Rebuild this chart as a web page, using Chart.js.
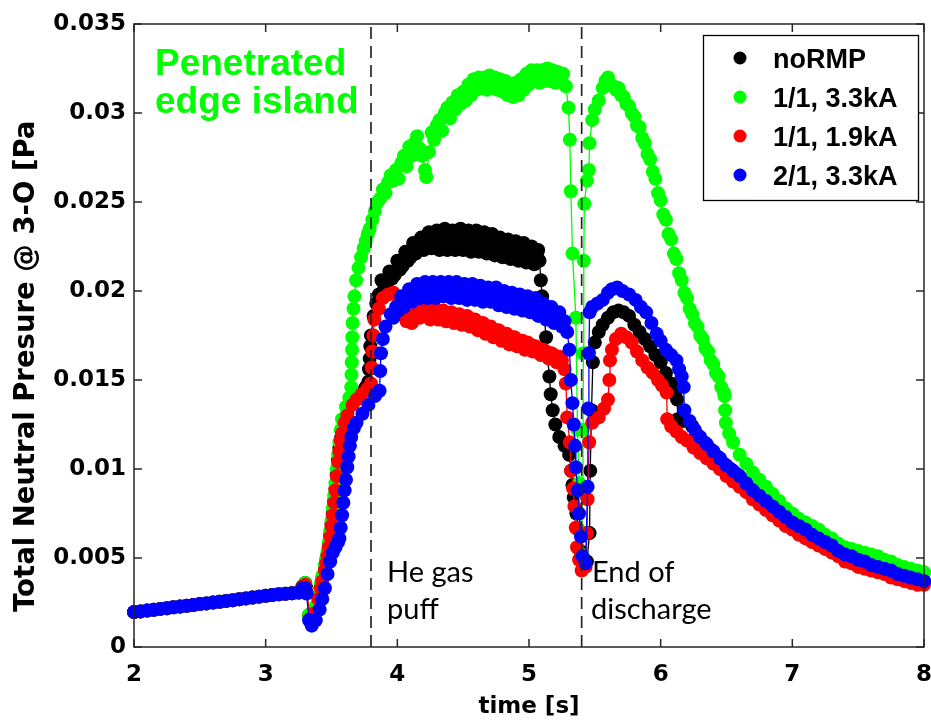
<!DOCTYPE html>
<html>
<head>
<meta charset="utf-8">
<script src="https://cdn.jsdelivr.net/npm/chart.js@4.4.1/dist/chart.umd.min.js"></script>
<style>
  html, body { margin: 0; padding: 0; background: #ffffff; }
  #wrap { position: relative; width: 931px; height: 721px; }
</style>
</head>
<body>
<div id="wrap"><canvas id="c"></canvas></div>
<script>
// ---------- data ----------
const xTickLabels = ['2', '3', '4', '5', '6', '7', '8'];
const yTickLabels = ['0', '0.005', '0.01', '0.015', '0.02', '0.025', '0.03', '0.035'];
const seriesLabels = ['noRMP', '1/1, 3.3kA', '1/1, 1.9kA', '2/1, 3.3kA'];
const seriesColors = ['#000000', '#00ff00', '#ff0000', '#0000ff'];
const eventTimes = [3.8, 5.4];
const xTitle = 'time [s]';
const yTitle = 'Total Neutral Presure @ 3-O [Pa';
const islandNote = ['Penetrated', 'edge island'];
const puffNote = ['He gas', 'puff'];
const endNote = ['End of', 'discharge'];

// pre-puff ramp, common to all four discharges  [time s, pressure Pa]
const preRamp = [
  [2.00,0.00196],[2.05,0.00200],[2.10,0.00205],[2.15,0.00209],[2.20,0.00214],[2.25,0.00218],
  [2.30,0.00223],[2.35,0.00227],[2.40,0.00232],[2.45,0.00236],[2.50,0.00241],[2.55,0.00245],
  [2.60,0.00250],[2.65,0.00254],[2.70,0.00259],[2.75,0.00263],[2.80,0.00268],[2.85,0.00273],
  [2.90,0.00278],[2.95,0.00283],[3.00,0.00288],[3.05,0.00292],[3.10,0.00296],[3.15,0.00299],
  [3.20,0.00302],[3.25,0.00306]
];

const noRMP = [
  [3.28,0.0034],[3.30,0.0036],[3.31,0.0033],[3.33,0.0018],[3.35,0.0016],[3.38,0.0022],[3.40,0.0028],
  [3.42,0.0034],[3.43,0.0038],[3.45,0.0044],[3.46,0.0048],[3.47,0.0052],[3.48,0.0057],[3.49,0.0063],
  [3.50,0.0069],[3.51,0.0075],[3.52,0.0082],[3.53,0.0089],[3.54,0.0097],[3.55,0.0105],[3.56,0.0112],
  [3.57,0.0117],[3.58,0.0122],[3.60,0.0127],[3.62,0.0131],[3.66,0.0137],[3.69,0.0140],[3.73,0.0143],
  [3.76,0.0146],[3.78,0.0149],[3.785,0.0156],[3.79,0.0162],[3.795,0.0169],[3.80,0.0175],[3.82,0.0186],
  [3.84,0.0193],[3.86,0.0198],[3.88,0.0206],[3.90,0.0201],[3.92,0.0203],[3.94,0.0211],[3.96,0.0207],
  [3.98,0.0209],[4.00,0.0217],[4.02,0.0212],[4.04,0.0214],[4.06,0.0222],[4.08,0.0217],[4.10,0.0219],
  [4.12,0.0227],[4.14,0.0221],[4.16,0.0223],[4.18,0.0230],[4.20,0.0223],[4.22,0.0226],[4.24,0.0233],
  [4.26,0.0224],[4.28,0.0228],[4.30,0.0234],[4.32,0.0223],[4.34,0.0229],[4.36,0.0235],[4.38,0.0223],
  [4.40,0.0229],[4.42,0.0234],[4.44,0.0223],[4.46,0.0229],[4.48,0.0235],[4.50,0.0223],[4.52,0.0229],
  [4.54,0.0234],[4.56,0.0222],[4.58,0.0228],[4.60,0.0234],[4.62,0.0222],[4.64,0.0228],[4.66,0.0233],
  [4.68,0.0221],[4.70,0.0227],[4.72,0.0232],[4.74,0.0220],[4.76,0.0226],[4.78,0.0230],[4.80,0.0219],
  [4.82,0.0225],[4.84,0.0229],[4.86,0.0218],[4.88,0.0224],[4.90,0.0228],[4.92,0.0217],[4.94,0.0222],
  [4.96,0.0227],[4.98,0.0216],[5.00,0.0221],[5.02,0.0225],[5.04,0.0215],[5.06,0.0220],[5.07,0.0223],
  [5.08,0.0217],[5.09,0.0206],[5.10,0.0197],[5.115,0.0186],[5.13,0.0174],[5.14,0.0163],[5.155,0.0152],
  [5.165,0.0142],[5.18,0.0133],[5.20,0.0125],[5.23,0.0118],[5.27,0.0113],[5.305,0.0108],[5.32,0.0099],
  [5.33,0.0091],[5.34,0.0084],[5.36,0.0075],[5.375,0.0066],[5.39,0.0054],[5.42,0.0045],[5.44,0.0048],
  [5.46,0.0064],[5.465,0.0099],[5.475,0.0133],[5.485,0.0160],[5.50,0.0171],[5.53,0.0177],[5.56,0.0181],
  [5.60,0.0185],[5.64,0.0188],[5.68,0.0189],[5.72,0.0188],[5.76,0.0186],[5.80,0.0181],[5.84,0.0177],
  [5.88,0.0173],[5.92,0.0169],[5.96,0.0164],[6.00,0.0160],[6.04,0.0154],[6.08,0.0148],[6.11,0.0142],
  [6.125,0.0139],[6.13,0.0128],[6.16,0.0127],[6.20,0.0127],[6.24,0.0124],[6.28,0.0119],[6.33,0.0115],
  [6.38,0.0111],[6.43,0.0107],[6.48,0.0103],[6.53,0.0100],[6.58,0.0097],[6.63,0.0093],[6.68,0.0089],
  [6.73,0.0086],[6.78,0.0083],[6.83,0.0080],[6.88,0.0077],[6.93,0.0074],[6.98,0.0071],[7.05,0.0067],
  [7.12,0.0064],[7.20,0.0060],[7.28,0.0057],[7.36,0.0054],[7.44,0.0051],[7.52,0.0048],[7.60,0.0046],
  [7.70,0.0043],[7.80,0.0041],[7.90,0.0039],[8.00,0.0037]
];

const rmp11High = [
  [3.28,0.0034],[3.30,0.0036],[3.31,0.0032],[3.33,0.0018],[3.35,0.0017],[3.38,0.0023],[3.40,0.0029],
  [3.42,0.0036],[3.43,0.0040],[3.45,0.0046],[3.46,0.0050],[3.47,0.0054],[3.48,0.0059],[3.49,0.0065],
  [3.50,0.0071],[3.51,0.0078],[3.52,0.0085],[3.53,0.0092],[3.54,0.0100],[3.55,0.0108],[3.56,0.0115],
  [3.57,0.0122],[3.58,0.0128],[3.61,0.0135],[3.635,0.0140],[3.65,0.0146],[3.652,0.0153],[3.654,0.0160],
  [3.656,0.0167],[3.658,0.0174],[3.66,0.0182],[3.667,0.0190],[3.674,0.0197],[3.687,0.0206],[3.705,0.0213],
  [3.725,0.0219],[3.745,0.0224],[3.76,0.0228],[3.775,0.0232],[3.79,0.0235],[3.81,0.0240],[3.83,0.0245],
  [3.85,0.0250],[3.87,0.0252],[3.89,0.0257],[3.91,0.0255],[3.93,0.0261],[3.95,0.0265],[3.97,0.0262],
  [3.99,0.0268],[4.01,0.0263],[4.03,0.0272],[4.05,0.0276],[4.07,0.0270],[4.09,0.0281],[4.11,0.0276],
  [4.13,0.0283],[4.15,0.0287],[4.17,0.0280],[4.19,0.0276],[4.21,0.0268],[4.22,0.0264],[4.24,0.0278],
  [4.26,0.0289],[4.28,0.0285],[4.30,0.0293],[4.32,0.0296],[4.34,0.0290],[4.36,0.0300],[4.38,0.0303],
  [4.40,0.0297],[4.42,0.0306],[4.44,0.0302],[4.46,0.0310],[4.48,0.0305],[4.50,0.0312],[4.52,0.0307],
  [4.54,0.0316],[4.56,0.0310],[4.58,0.0319],[4.60,0.0313],[4.62,0.0320],[4.64,0.0314],[4.66,0.0320],
  [4.68,0.0313],[4.70,0.0321],[4.72,0.0315],[4.74,0.0320],[4.76,0.0313],[4.78,0.0319],[4.80,0.0312],
  [4.82,0.0318],[4.84,0.0310],[4.86,0.0316],[4.88,0.0309],[4.90,0.0317],[4.92,0.0310],[4.94,0.0319],
  [4.96,0.0313],[4.98,0.0322],[5.00,0.0316],[5.02,0.0324],[5.04,0.0318],[5.06,0.0324],[5.08,0.0317],
  [5.10,0.0324],[5.12,0.0318],[5.14,0.0325],[5.16,0.0318],[5.18,0.0324],[5.20,0.0317],[5.22,0.0323],
  [5.24,0.0318],[5.26,0.0322],[5.28,0.0315],[5.30,0.0303],[5.31,0.0285],[5.318,0.0256],[5.33,0.0221],
  [5.356,0.0185],[5.368,0.0122],[5.381,0.0092],[5.39,0.0065],[5.398,0.0052],[5.405,0.0090],[5.41,0.0122],
  [5.413,0.0165],[5.416,0.0217],[5.42,0.0249],[5.44,0.0262],[5.455,0.0268],[5.46,0.0283],[5.48,0.0296],
  [5.50,0.0302],[5.53,0.0307],[5.56,0.0314],[5.58,0.0318],[5.60,0.0320],[5.62,0.0316],[5.64,0.0315],
  [5.66,0.0313],[5.68,0.0314],[5.70,0.0310],[5.72,0.0309],[5.74,0.0305],[5.76,0.0304],[5.78,0.0300],
  [5.80,0.0298],[5.82,0.0293],[5.84,0.0292],[5.86,0.0286],[5.88,0.0283],[5.90,0.0277],[5.92,0.0274],
  [5.94,0.0267],[5.96,0.0263],[5.98,0.0255],[6.00,0.0251],[6.02,0.0243],[6.04,0.0240],[6.06,0.0232],
  [6.08,0.0229],[6.10,0.0221],[6.12,0.0218],[6.14,0.0210],[6.16,0.0206],[6.18,0.0199],[6.20,0.0196],
  [6.22,0.0190],[6.24,0.0187],[6.26,0.0182],[6.28,0.0180],[6.30,0.0175],[6.32,0.0173],[6.34,0.0168],
  [6.36,0.0166],[6.38,0.0161],[6.40,0.0159],[6.42,0.0154],[6.44,0.0152],[6.46,0.0146],[6.48,0.0143],
  [6.485,0.0141],[6.49,0.0133],[6.495,0.0126],[6.52,0.0120],[6.55,0.0115],[6.60,0.0108],[6.65,0.0103],
  [6.70,0.0098],[6.75,0.0094],[6.80,0.0090],[6.85,0.0086],[6.90,0.0082],[6.95,0.0078],[7.00,0.0075],
  [7.05,0.0072],[7.10,0.0070],[7.15,0.0068],[7.20,0.0066],[7.25,0.0063],[7.30,0.0061],[7.35,0.0058],
  [7.40,0.0056],[7.45,0.0055],[7.50,0.0054],[7.55,0.0053],[7.60,0.0052],[7.65,0.0051],[7.70,0.0049],
  [7.75,0.0048],[7.80,0.0046],[7.85,0.0045],[7.90,0.0044],[7.95,0.0043],[8.00,0.0042]
];

const rmp11Low = [
  [3.28,0.0034],[3.30,0.0035],[3.31,0.0031],[3.34,0.0016],[3.37,0.0019],[3.40,0.0027],[3.42,0.0033],
  [3.43,0.0037],[3.45,0.0043],[3.46,0.0047],[3.47,0.0051],[3.48,0.0056],[3.49,0.0062],[3.50,0.0068],
  [3.51,0.0074],[3.52,0.0081],[3.53,0.0088],[3.54,0.0096],[3.55,0.0104],[3.56,0.0110],[3.57,0.0116],
  [3.58,0.0120],[3.60,0.0126],[3.62,0.0130],[3.66,0.0136],[3.69,0.0139],[3.73,0.0142],[3.77,0.0145],
  [3.80,0.0148],[3.805,0.0157],[3.81,0.0166],[3.818,0.0175],[3.825,0.0184],[3.86,0.0190],[3.89,0.0196],
  [3.93,0.0198],[3.97,0.0199],[4.01,0.0193],[4.03,0.0188],[4.05,0.0186],[4.07,0.0183],[4.09,0.0186],
  [4.11,0.0182],[4.13,0.0185],[4.15,0.0188],[4.17,0.0185],[4.19,0.0190],[4.21,0.0186],[4.23,0.0189],
  [4.25,0.0184],[4.27,0.0188],[4.29,0.0190],[4.31,0.0184],[4.33,0.0187],[4.35,0.0189],[4.37,0.0183],
  [4.39,0.0187],[4.41,0.0188],[4.43,0.0182],[4.45,0.0186],[4.47,0.0187],[4.49,0.0181],[4.51,0.0185],
  [4.53,0.0186],[4.55,0.0180],[4.57,0.0184],[4.59,0.0184],[4.61,0.0178],[4.63,0.0182],[4.65,0.0182],
  [4.67,0.0176],[4.69,0.0180],[4.71,0.0180],[4.73,0.0174],[4.75,0.0178],[4.77,0.0178],[4.79,0.0172],
  [4.81,0.0176],[4.83,0.0176],[4.85,0.0170],[4.87,0.0174],[4.89,0.0174],[4.91,0.0169],[4.93,0.0172],
  [4.95,0.0172],[4.97,0.0167],[4.99,0.0171],[5.01,0.0170],[5.03,0.0166],[5.05,0.0169],[5.07,0.0168],
  [5.09,0.0164],[5.11,0.0167],[5.13,0.0166],[5.15,0.0162],[5.17,0.0165],[5.19,0.0164],[5.21,0.0160],
  [5.23,0.0163],[5.25,0.0161],[5.27,0.0156],[5.28,0.0148],[5.29,0.0129],[5.31,0.0115],[5.32,0.0099],
  [5.335,0.0089],[5.345,0.0079],[5.355,0.0067],[5.365,0.0056],[5.38,0.0049],[5.40,0.0043],[5.43,0.0045],
  [5.44,0.0064],[5.445,0.0083],[5.457,0.0115],[5.48,0.0126],[5.53,0.0129],[5.57,0.0134],[5.60,0.0139],
  [5.61,0.0150],[5.615,0.0161],[5.63,0.0167],[5.66,0.0173],[5.70,0.0176],[5.74,0.0174],[5.78,0.0171],
  [5.82,0.0166],[5.86,0.0161],[5.90,0.0157],[5.94,0.0154],[5.98,0.0150],[6.01,0.0147],[6.045,0.0143],
  [6.05,0.0128],[6.08,0.0124],[6.12,0.0121],[6.16,0.0118],[6.20,0.0116],[6.25,0.0112],[6.30,0.0109],
  [6.35,0.0106],[6.40,0.0103],[6.45,0.0100],[6.50,0.0096],[6.55,0.0093],[6.60,0.0090],[6.65,0.0087],
  [6.70,0.0083],[6.75,0.0080],[6.80,0.0077],[6.85,0.0074],[6.90,0.0071],[6.95,0.0068],[7.00,0.0066],
  [7.05,0.0063],[7.10,0.0061],[7.15,0.0059],[7.20,0.0057],[7.25,0.0055],[7.30,0.0053],[7.35,0.0051],
  [7.40,0.0048],[7.45,0.0047],[7.50,0.0045],[7.55,0.0044],[7.60,0.0043],[7.65,0.0042],[7.70,0.0041],
  [7.75,0.0039],[7.80,0.0038],[7.85,0.0037],[7.90,0.0036],[7.95,0.0035],[8.00,0.0035]
];

const rmp21High = [
  [3.28,0.0033],[3.30,0.0033],[3.31,0.0030],[3.33,0.0015],[3.35,0.0012],[3.38,0.0015],[3.41,0.0021],
  [3.43,0.0027],[3.45,0.0033],[3.47,0.0041],[3.49,0.0048],[3.51,0.0053],[3.53,0.0056],[3.55,0.0059],
  [3.56,0.0061],[3.57,0.0067],[3.58,0.0074],[3.59,0.0081],[3.60,0.0088],[3.61,0.0094],[3.62,0.0101],
  [3.63,0.0107],[3.64,0.0113],[3.65,0.0118],[3.67,0.0123],[3.69,0.0126],[3.735,0.0131],[3.78,0.0136],
  [3.83,0.0141],[3.865,0.0144],[3.87,0.0155],[3.876,0.0165],[3.89,0.0173],[3.91,0.0180],[3.95,0.0187],
  [3.97,0.0185],[3.99,0.0191],[4.01,0.0189],[4.03,0.0197],[4.05,0.0191],[4.07,0.0195],[4.09,0.0201],
  [4.11,0.0194],[4.13,0.0199],[4.15,0.0204],[4.17,0.0196],[4.19,0.0200],[4.21,0.0205],[4.23,0.0196],
  [4.25,0.0201],[4.27,0.0205],[4.29,0.0196],[4.31,0.0201],[4.33,0.0205],[4.35,0.0197],[4.37,0.0201],
  [4.39,0.0205],[4.41,0.0196],[4.43,0.0201],[4.45,0.0205],[4.47,0.0196],[4.49,0.0200],[4.51,0.0204],
  [4.53,0.0195],[4.55,0.0200],[4.57,0.0204],[4.59,0.0195],[4.61,0.0199],[4.63,0.0203],[4.65,0.0194],
  [4.67,0.0198],[4.69,0.0202],[4.71,0.0194],[4.73,0.0198],[4.75,0.0202],[4.77,0.0192],[4.79,0.0196],
  [4.81,0.0200],[4.83,0.0191],[4.85,0.0195],[4.87,0.0199],[4.89,0.0190],[4.91,0.0194],[4.93,0.0198],
  [4.95,0.0189],[4.97,0.0193],[4.99,0.0197],[5.01,0.0188],[5.03,0.0192],[5.05,0.0196],[5.07,0.0186],
  [5.09,0.0190],[5.11,0.0193],[5.13,0.0184],[5.15,0.0188],[5.17,0.0191],[5.19,0.0182],[5.21,0.0186],
  [5.23,0.0188],[5.25,0.0180],[5.27,0.0183],[5.29,0.0177],[5.307,0.0167],[5.318,0.0150],[5.33,0.0137],
  [5.34,0.0125],[5.35,0.0113],[5.356,0.0101],[5.37,0.0088],[5.38,0.0075],[5.395,0.0062],[5.406,0.0051],
  [5.43,0.0047],[5.445,0.0090],[5.45,0.0134],[5.455,0.0165],[5.46,0.0188],[5.48,0.0191],[5.52,0.0193],
  [5.56,0.0195],[5.60,0.0199],[5.63,0.0201],[5.67,0.0202],[5.71,0.0200],[5.76,0.0198],[5.81,0.0195],
  [5.85,0.0191],[5.89,0.0188],[5.93,0.0182],[5.97,0.0176],[6.00,0.0172],[6.04,0.0167],[6.08,0.0164],
  [6.12,0.0161],[6.14,0.0156],[6.16,0.0152],[6.175,0.0146],[6.18,0.0133],[6.22,0.0127],[6.26,0.0122],
  [6.30,0.0118],[6.35,0.0114],[6.40,0.0110],[6.45,0.0106],[6.50,0.0102],[6.55,0.0099],[6.60,0.0096],
  [6.65,0.0092],[6.70,0.0088],[6.75,0.0085],[6.80,0.0082],[6.85,0.0079],[6.90,0.0076],[6.95,0.0073],
  [7.00,0.0070],[7.05,0.0068],[7.10,0.0066],[7.15,0.0063],[7.20,0.0061],[7.25,0.0059],[7.30,0.0057],
  [7.35,0.0054],[7.40,0.0052],[7.45,0.0051],[7.50,0.0049],[7.55,0.0048],[7.60,0.0046],[7.65,0.0045],
  [7.70,0.0044],[7.75,0.0043],[7.80,0.0041],[7.85,0.0040],[7.90,0.0039],[7.95,0.0038],[8.00,0.0037]
];

// ---------- chart ----------
const seriesData = [noRMP, rmp11High, rmp11Low, rmp21High];
const drawOrder = [4, 3, 2, 1];   // black at the bottom, blue on top

const toXY = arr => arr.map(p => ({ x: p[0], y: p[1] }));

const datasets = seriesData.map((s, i) => ({
  label: seriesLabels[i],
  data: toXY(preRamp.concat(s)),
  borderColor: seriesColors[i],
  backgroundColor: seriesColors[i],
  pointBackgroundColor: seriesColors[i],
  pointBorderWidth: 0,
  pointRadius: 7,
  pointHoverRadius: 7,
  borderWidth: 1.3,
  tension: 0,
  order: drawOrder[i],
  clip: 8
}));

eventTimes.forEach(t => {
  datasets.push({
    label: '',
    data: [{ x: t, y: 0 }, { x: t, y: 0.035 }],
    borderColor: '#262626',
    borderWidth: 1.7,
    borderDash: [12, 7],
    pointRadius: 0,
    pointHoverRadius: 0,
    order: 0
  });
});

const overlay = {
  id: 'overlay',
  afterDatasetsDraw(chart) {
    const { ctx, chartArea: a, scales } = chart;
    const xs = scales.x, ys = scales.y;
    ctx.save();
    ctx.strokeStyle = '#262626';
    ctx.lineWidth = 1.5;
    ctx.strokeRect(a.left, a.top, a.right - a.left, a.bottom - a.top);
    ctx.beginPath();
    xs.ticks.forEach(t => {
      const px = xs.getPixelForValue(t.value);
      ctx.moveTo(px, a.bottom); ctx.lineTo(px, a.bottom - 8);
      ctx.moveTo(px, a.top); ctx.lineTo(px, a.top + 8);
    });
    ys.ticks.forEach(t => {
      const py = ys.getPixelForValue(t.value);
      ctx.moveTo(a.left, py); ctx.lineTo(a.left + 8, py);
      ctx.moveTo(a.right, py); ctx.lineTo(a.right - 8, py);
    });
    ctx.stroke();
    ctx.restore();
  },
  afterDraw(chart) {
    const { ctx } = chart;
    ctx.save();
    ctx.translate(34, 612);
    ctx.rotate(-Math.PI / 2);
    ctx.font = 'bold 27.5px "DejaVu Sans"';
    ctx.fillStyle = '#000';
    ctx.textAlign = 'left';
    ctx.textBaseline = 'alphabetic';
    ctx.fillText(yTitle, 0, 0);
    ctx.restore();

    ctx.save();
    ctx.textAlign = 'left';
    ctx.textBaseline = 'alphabetic';
    ctx.fillStyle = '#00ff00';
    ctx.font = 'bold 37px "Liberation Sans"';
    ctx.fillText(islandNote[0], 155, 75);
    ctx.fillText(islandNote[1], 155, 113);
    ctx.fillStyle = '#000';
    ctx.font = '29px Lato';
    ctx.fillText(puffNote[0], 387, 582);
    ctx.fillText(puffNote[1], 387, 619);
    ctx.fillText(endNote[0], 592, 582);
    ctx.fillText(endNote[1], 591, 619);

    const lx = 703.5, ly = 35.5, lw = 215, lh = 165;
    ctx.fillStyle = '#fff';
    ctx.fillRect(lx, ly, lw, lh);
    ctx.strokeStyle = '#000';
    ctx.lineWidth = 1.3;
    ctx.strokeRect(lx, ly, lw, lh);
    ctx.font = 'bold 27px "Liberation Sans"';
    for (let i = 0; i < seriesLabels.length; i++) {
      const ry = 58 + i * 39;
      ctx.beginPath();
      ctx.fillStyle = seriesColors[i];
      ctx.arc(740, ry, 6.5, 0, Math.PI * 2);
      ctx.fill();
      ctx.fillStyle = '#000';
      ctx.fillText(seriesLabels[i], 773, ry + 10);
    }
    ctx.restore();
  }
};

new Chart(document.getElementById('c'), {
  type: 'line',
  data: { datasets },
  options: {
    responsive: true,
    maintainAspectRatio: false,
    animation: false,
    events: [],
    layout: { padding: { left: 0, right: 6, top: 24, bottom: 0 } },
    plugins: { legend: { display: false }, tooltip: { enabled: false } },
    scales: {
      x: {
        type: 'linear',
        min: 2, max: 8,
        grid: { display: false, drawTicks: false },
        border: { display: false },
        ticks: {
          stepSize: 1, autoSkip: false, maxRotation: 0, padding: 14,
          color: '#000',
          font: { family: 'DejaVu Sans', weight: 'bold', size: 23 },
          callback: (v, i) => xTickLabels[i]
        },
        title: {
          display: true, text: xTitle, color: '#000',
          font: { family: 'DejaVu Sans', weight: 'bold', size: 23 },
          padding: { top: 0, bottom: 0 }
        },
        afterFit: s => { s.height = 74; s.paddingLeft = 0; s.paddingRight = 0; }
      },
      y: {
        type: 'linear',
        min: 0, max: 0.035,
        grid: { display: false, drawTicks: false },
        border: { display: false },
        ticks: {
          stepSize: 0.005, autoSkip: false, padding: 8,
          color: '#000',
          font: { family: 'DejaVu Sans', weight: 'bold', size: 23 },
          callback: (v, i) => yTickLabels[i]
        },
        afterFit: s => { s.width = 134; s.paddingTop = 0; s.paddingBottom = 0; }
      }
    }
  },
  plugins: [overlay]
});
</script>
</body>
</html>
